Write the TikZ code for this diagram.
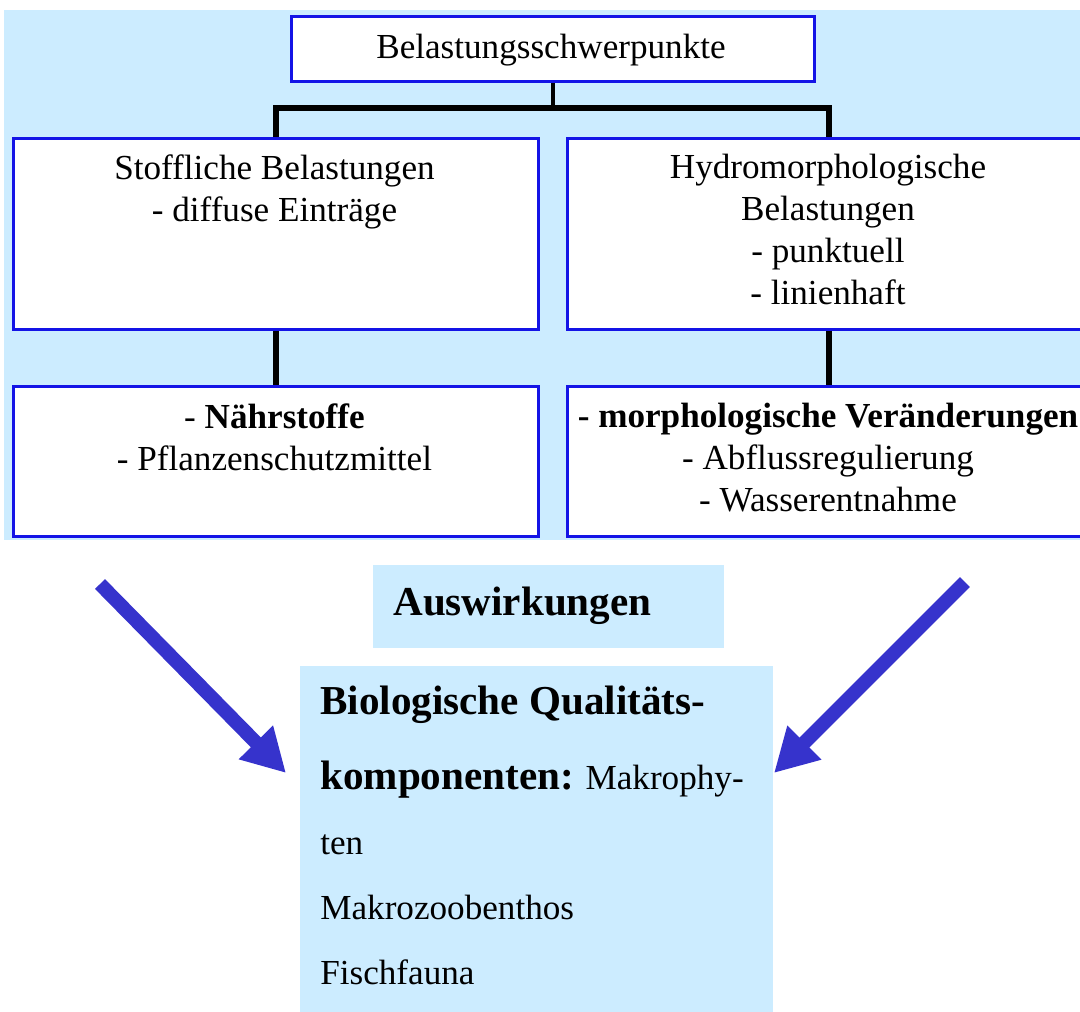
\documentclass[tikz,border=0pt]{standalone}
\usepackage{fontspec}
\setmainfont{Liberation Serif}
\usetikzlibrary{arrows.meta}
\newlength{\pxu}\setlength{\pxu}{0.02cm}
\definecolor{bgblue}{RGB}{204,236,255}
\definecolor{lineblue}{RGB}{20,20,230}
\definecolor{arrowblue}{RGB}{54,51,204}
\tikzset{
  box/.style={draw=lineblue, line width=2.5\pxu, fill=white, anchor=north west, inner sep=0pt},
  conn/.style={line width=6\pxu},
  txt/.style={font=\fontsize{20}{23.9}\selectfont, align=center, inner sep=0pt, anchor=north},
  bigarrow/.style={arrowblue, line width=0.28cm, -{Triangle[length=0.86cm, width=0.9cm]}},
}

\begin{document}
\begin{tikzpicture}[x=1\pxu, y=-1\pxu]
  \useasboundingbox (0,0) rectangle (1080,1012);
  \clip (0,0) rectangle (1080,1012);
  \fill[bgblue] (4,10) rectangle (1090,540);

  % boxes
  \node[box, minimum width=523\pxu, minimum height=65\pxu] (top) at (290,15) {};
  \node[box, minimum width=525\pxu, minimum height=191\pxu] (stoff) at (12,137) {};
  \node[box, minimum width=524\pxu, minimum height=191\pxu] (hydro) at (566,137) {};
  \node[box, minimum width=525\pxu, minimum height=150\pxu] (naehr) at (12,385) {};
  \node[box, minimum width=524\pxu, minimum height=150\pxu] (morph) at (566,385) {};

  \node[txt, anchor=base] (toptext) at (551,58) {Belastungsschwerpunkte};
  \node[txt] (stofftext) at (274.5,154) {Stoffliche Belastungen\\- diffuse Einträge};
  \node[txt] (hydrotext) at (828,154) {Hydromorphologische\\Belastungen\\- punktuell\\- linienhaft};
  \node[txt] (naehrtext) at (274.5,403) {- \textbf{Nährstoffe}\\- Pflanzenschutzmittel};
  \node[txt] (morphtext) at (828,403) {\textbf{- morphologische Veränderungen}\\- Abflussregulierung\\- Wasserentnahme};

  % tree lines
  \coordinate (split) at (top.south |- 0,108);
  \draw[conn, line width=4\pxu] (top.south) -- (split);
  \draw[conn] (stoff.north) |- (split) -| (hydro.north);
  \draw[conn] (stoff.south) -- (naehr.north);
  \draw[conn] (hydro.south) -- (morph.north);

  % lower part
  \node[fill=bgblue, anchor=north west, minimum width=351\pxu, minimum height=83\pxu] (wirk) at (373,565) {};
  \node[anchor=base west, inner sep=0pt, font=\fontsize{23.4}{28}\selectfont\bfseries] (wirktext) at (393,615) {Auswirkungen};

  \node[fill=bgblue, anchor=north west, minimum width=473\pxu, minimum height=360\pxu] (bio) at (300,666) {};
  \node[anchor=north west, inner sep=0pt, align=left, font=\fontsize{20}{37}\selectfont] (biotext) at (320,686)
    {{\bfseries\fontsize{23.4}{37}\selectfont Biologische Qualitäts-}\\[10\pxu]
     {\bfseries\fontsize{23.4}{37}\selectfont komponenten:} Makrophy-\\
     ten\\
     Makrozoobenthos\\
     Fischfauna};

  \coordinate (ltail) at (100,584);
  \coordinate (ltip) at (286,773);
  \coordinate (rtail) at (965,582);
  \coordinate (rtip) at (774,773);
  \draw[bigarrow] (ltail) -- (ltip);
  \draw[bigarrow] (rtail) -- (rtip);
\end{tikzpicture}
\end{document}
